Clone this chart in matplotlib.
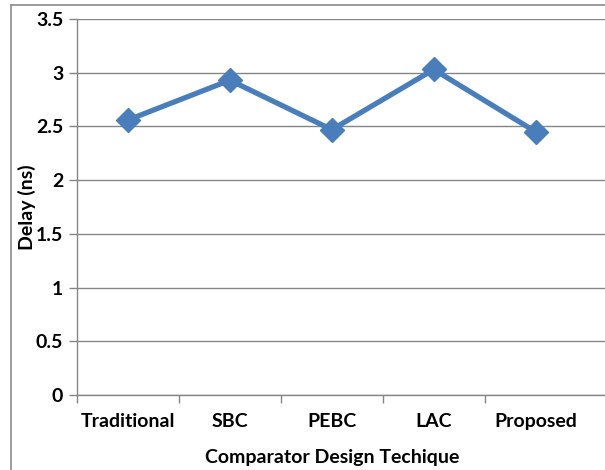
import matplotlib.pyplot as plt
from matplotlib.lines import Line2D

# delay of each comparator design
techniques = ['Traditional', 'SBC', 'PEBC', 'LAC', 'Proposed']
delay_ns = [2.56, 2.93, 2.47, 3.03, 2.45]
y_ticks = [0, 0.5, 1, 1.5, 2, 2.5, 3, 3.5]
y_tick_labels = ['0', '0.5', '1', '1.5', '2', '2.5', '3', '3.5']

plt.rcParams['font.family'] = ['Lato', 'DejaVu Sans']
plt.rcParams['font.weight'] = 'bold'

fig = plt.figure(figsize=(6.05, 4.70), dpi=100)
ax = fig.add_axes([77/605, 75/470, 528/605, 376/470])

x = list(range(len(techniques)))
ax.plot(x, delay_ns, color='#4a7ebb', lw=3.8, marker='D', markersize=12,
        solid_joinstyle='miter', zorder=3)

ax.set_ylim(0, 3.5)
ax.set_xlim(-0.5, 4.68)
ax.set_yticks(y_ticks)
ax.set_yticklabels(y_tick_labels)
ax.set_xticks(x)
ax.set_xticklabels(techniques)
ax.set_xticks([-0.5, 0.5, 1.5, 2.5, 3.5], minor=True)
ax.tick_params(axis='x', which='major', length=0, pad=13, labelsize=14)
ax.tick_params(axis='x', which='minor', length=6, color='#868686', width=1)
ax.tick_params(axis='y', length=6, color='#868686', width=1, pad=4, labelsize=14)

ax.grid(axis='y', color='#868686', lw=1)
ax.set_axisbelow(True)
for s in ['top', 'right']:
    ax.spines[s].set_visible(False)
for s in ['left', 'bottom']:
    ax.spines[s].set_color('#868686')
    ax.spines[s].set_linewidth(1)

ax.set_ylabel('Delay (ns)', fontsize=14, fontweight='bold')
ax.yaxis.set_label_coords(-0.077, 0.5)
ax.set_xlabel('Comparator Design Techique', fontsize=14, fontweight='bold')
ax.xaxis.set_label_coords(0.483, -0.143)

# chart border on the left and top
fig.add_artist(Line2D([11/605, 11/605], [0, 1 - 5/470], color='#8c8c8c', lw=1.2))
fig.add_artist(Line2D([11/605, 1], [1 - 5/470, 1 - 5/470], color='#8c8c8c', lw=1.2))

fig.savefig('out.png', dpi=100)
